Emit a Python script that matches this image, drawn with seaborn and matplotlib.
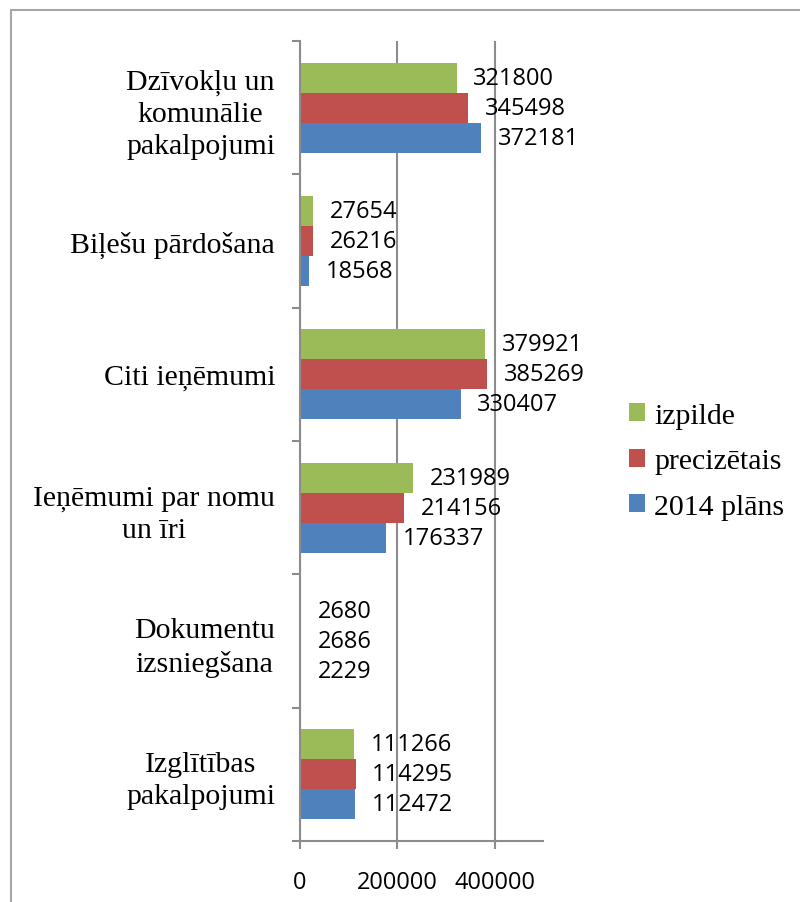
import numpy as np
import pandas as pd
import seaborn as sns
from matplotlib import pyplot as plt
from matplotlib.patches import Patch
from matplotlib.lines import Line2D

categories = ["Dzīvokļu un\nkomunālie\npakalpojumi", "Biļešu pārdošana", "Citi ieņēmumi",
              "Ieņēmumi par nomu\nun īri", "Dokumentu\nizsniegšana", "Izglītības\npakalpojumi"]
series = ["izpilde", "precizētais", "2014 plāns"]
izpilde = [321800, 27654, 379921, 231989, 2680, 111266]
precizetais = [345498, 26216, 385269, 214156, 2686, 114295]
plans = [372181, 18568, 330407, 176337, 2229, 112472]
colors = ["#9BBB59", "#C0504D", "#4F81BD"]
xticks = [0, 200000, 400000]

rows = []
for name, vals in zip(series, [izpilde, precizetais, plans]):
    for c, v in zip(categories, vals):
        rows.append({"category": c, "series": name, "value": v})
df = pd.DataFrame(rows)

sns.set_style("white")
plt.rcParams["font.family"] = ["Open Sans", "DejaVu Sans"]
plt.rcParams["text.color"] = "black"
plt.rcParams["xtick.labelcolor"] = "black"
plt.rcParams["ytick.labelcolor"] = "black"
serif = ["Liberation Serif", "DejaVu Serif"]
gray = "#8c8c8c"

fig = plt.figure(figsize=(8, 9.03), dpi=100)
ax = fig.add_axes([0.375, 0.0676, 0.304, 0.886])
sns.barplot(data=df, x="value", y="category", hue="series", order=categories,
            hue_order=series, palette=colors, orient="h", width=0.675, gap=0,
            saturation=1, errorbar=None, legend=False, linewidth=0, ax=ax)

for cont in ax.containers:
    ax.bar_label(cont, fmt="{:.0f}", padding=12, fontsize=17, color="black")

ax.set_xlim(0, 500000)
ax.set_ylim(5.5, -0.5)
ax.set_xticks(xticks)
ax.set_xticklabels([str(t) for t in xticks], fontsize=17)
ax.set_yticks(range(len(categories)))
ax.set_yticklabels(categories, fontsize=21.5, family=serif, multialignment="center",
                   linespacing=1.3)
ax.set_yticks(np.arange(-0.5, len(categories)), minor=True)
ax.tick_params(axis="y", which="major", length=0, pad=18)
ax.tick_params(axis="y", which="minor", length=6, width=1.5, color=gray, direction="out", left=True)
ax.tick_params(axis="x", which="major", length=6, width=1.5, color=gray, direction="out", pad=15, bottom=True)
ax.set_xlabel("")
ax.set_ylabel("")
ax.grid(axis="x", color=gray, linewidth=1.5)
ax.set_axisbelow(True)
for s in ["top", "right"]:
    ax.spines[s].set_visible(False)
for s in ["left", "bottom"]:
    ax.spines[s].set_color(gray)
    ax.spines[s].set_linewidth(1.5)

handles = [Patch(facecolor=c, edgecolor="none") for c in colors]
fig.legend(handles, series, loc="center left", bbox_to_anchor=(629 / 800, 0.488),
           frameon=False, prop={"family": serif, "size": 21.5}, handlelength=0.55,
           handleheight=0.55, handletextpad=0.3, labelspacing=0.65, borderpad=0,
           borderaxespad=0)

# outer frame
fig.add_artist(Line2D([11 / 800, 11 / 800], [0, 1 - 11 / 903], color="#a6a6a6", linewidth=1.5))
fig.add_artist(Line2D([11 / 800, 1], [1 - 11 / 903, 1 - 11 / 903], color="#a6a6a6", linewidth=1.5))

fig.savefig("out.png", dpi=100)
